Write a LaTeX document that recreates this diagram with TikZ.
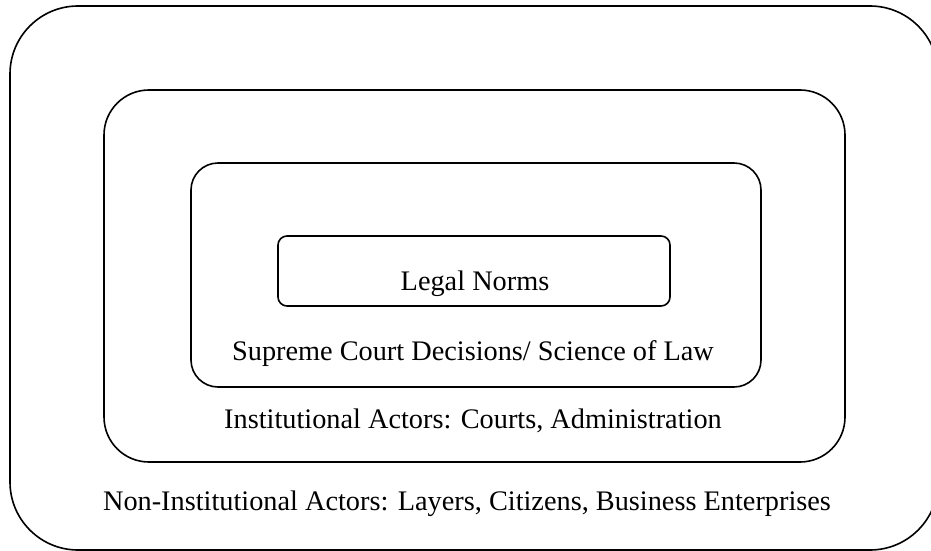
\documentclass[tikz,border=0pt]{standalone}
\usepackage{fontspec}
\setmainfont{Liberation Serif}
\begin{document}
\begin{tikzpicture}[x=1pt,y=-1pt,
  frame/.style={draw=black,line width=1.6pt},
  lbl/.style={anchor=base,inner sep=0pt,font=\fontsize{28.3}{33}\selectfont}]
\useasboundingbox (0,0) rectangle (931,551);
\clip (0,0) rectangle (931,551);
\fill[white] (0,0) rectangle (931,551);
\draw[frame,rounded corners=68pt] (10,6) rectangle (938,550);
\draw[frame,rounded corners=45pt] (104,90) rectangle (845,462);
\draw[frame,rounded corners=27pt] (191,163) rectangle (761,387);
\draw[frame,rounded corners=9pt] (278,236) rectangle (670,306);
\node[lbl] (legal) at (475,290) {Legal Norms};
\node[lbl] (supreme) at (473,360) {Supreme Court Decisions/ Science of Law};
\node[lbl] (inst) at (473,428) {Institutional Actors: Courts, Administration};
\node[lbl] (noninst) at (467,510) {Non-Institutional Actors: Layers, Citizens, Business Enterprises};
\end{tikzpicture}
\end{document}
